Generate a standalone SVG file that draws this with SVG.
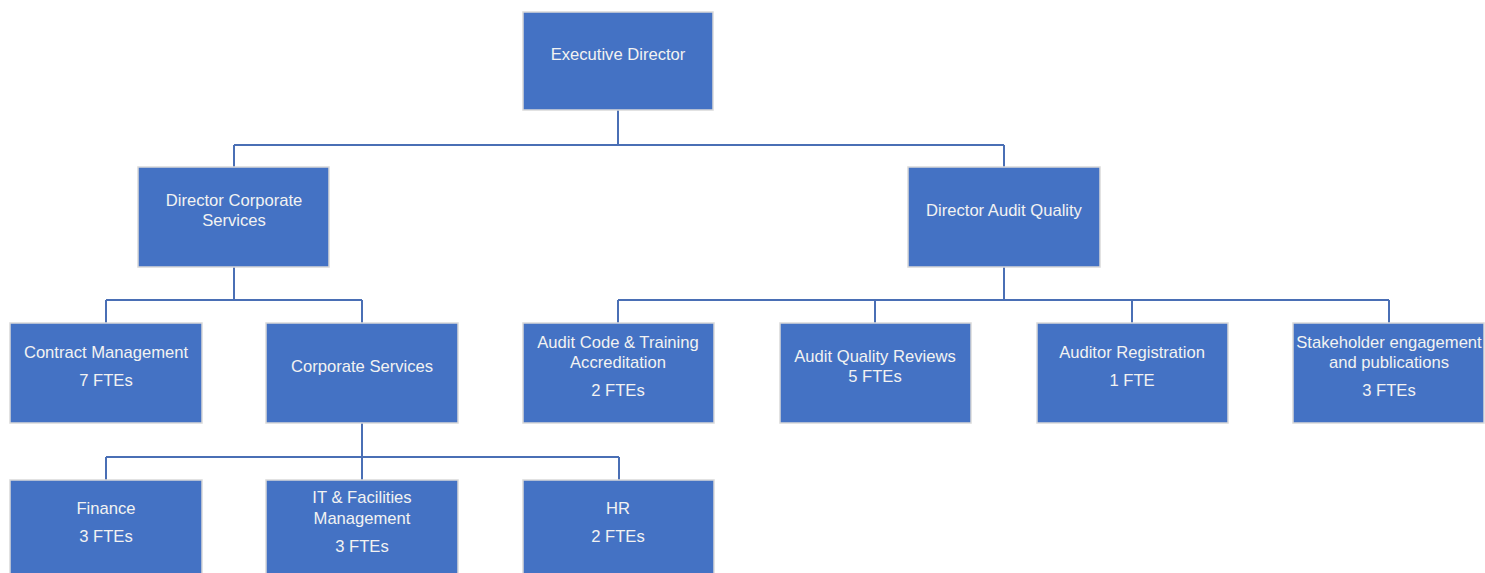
<svg xmlns="http://www.w3.org/2000/svg" width="1485" height="573" viewBox="0 0 1485 573">
<style>
.box{fill:#4472C4;stroke:#d9d9d9;stroke-width:1.5}
.t{font-family:"Liberation Sans",Arial,sans-serif;font-size:16.6px;fill:#f2f2f2;text-anchor:middle;dominant-baseline:central}
.c{fill:none;stroke:#4A6FB5;stroke-width:2}
</style>
<rect width="1485" height="573" fill="#ffffff"/>
<g id="connectors">
<path class="c" d="M618 110V145M234 145H1004M234 145V167M1004 145V167"/>
<path class="c" d="M234 267V300M106 300H362M106 300V323M362 300V323"/>
<path class="c" d="M1004 267V300M618 300H1389M618 300V323M875 300V323M1132 300V323M1389 300V323"/>
<path class="c" d="M362 423V457M106 457H619M106 457V480M362 457V480M619 457V480"/>
</g>
<g id="executive-director"><rect class="box" x="523" y="12" width="190" height="98"/><text class="t" x="618" y="54">Executive Director</text></g>
<g id="director-corporate-services"><rect class="box" x="138" y="167" width="191" height="100"/><text class="t" x="234" y="200">Director Corporate</text><text class="t" x="234" y="220">Services</text></g>
<g id="director-audit-quality"><rect class="box" x="908" y="167" width="192" height="100"/><text class="t" x="1004" y="210">Director Audit Quality</text></g>
<g id="contract-management"><rect class="box" x="10" y="323" width="192" height="100"/><text class="t" x="106" y="352">Contract Management</text><text class="t" x="106" y="380">7 FTEs</text></g>
<g id="corporate-services"><rect class="box" x="266" y="323" width="192" height="100"/><text class="t" x="362" y="366">Corporate Services</text></g>
<g id="audit-code"><rect class="box" x="523" y="323" width="191" height="100"/><text class="t" x="618" y="342">Audit Code &amp; Training</text><text class="t" x="618" y="362">Accreditation</text><text class="t" x="618" y="390">2 FTEs</text></g>
<g id="audit-quality-reviews"><rect class="box" x="780" y="323" width="191" height="100"/><text class="t" x="875" y="356">Audit Quality Reviews</text><text class="t" x="875" y="376">5 FTEs</text></g>
<g id="auditor-registration"><rect class="box" x="1037" y="323" width="191" height="100"/><text class="t" x="1132" y="352">Auditor Registration</text><text class="t" x="1132" y="380">1 FTE</text></g>
<g id="stakeholder"><rect class="box" x="1293" y="323" width="191" height="100"/><text class="t" x="1389" y="342">Stakeholder engagement</text><text class="t" x="1389" y="362">and publications</text><text class="t" x="1389" y="390">3 FTEs</text></g>
<g id="finance"><rect class="box" x="10" y="480" width="192" height="100"/><text class="t" x="106" y="508">Finance</text><text class="t" x="106" y="536">3 FTEs</text></g>
<g id="it-facilities"><rect class="box" x="266" y="480" width="192" height="100"/><text class="t" x="362" y="497">IT &amp; Facilities</text><text class="t" x="362" y="518">Management</text><text class="t" x="362" y="546">3 FTEs</text></g>
<g id="hr"><rect class="box" x="523" y="480" width="191" height="100"/><text class="t" x="618" y="508">HR</text><text class="t" x="618" y="536">2 FTEs</text></g>
</svg>
